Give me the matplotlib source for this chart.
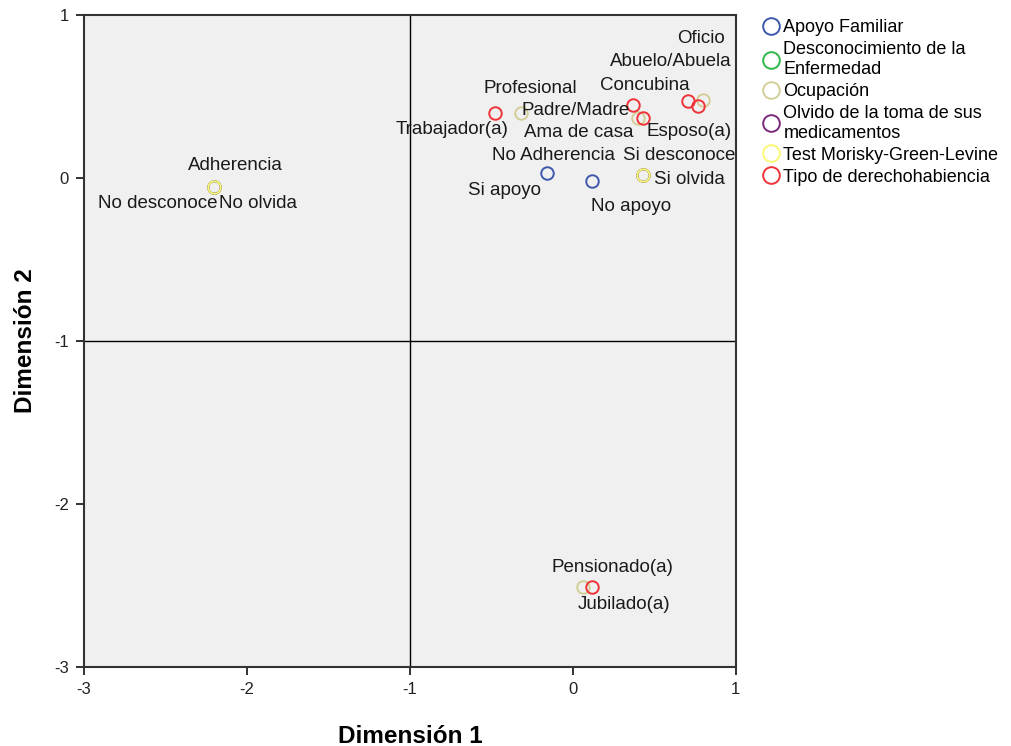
import matplotlib
matplotlib.use("Agg")
import matplotlib.pyplot as plt
from matplotlib.lines import Line2D

plt.rcParams['font.family'] = ['Liberation Sans', 'DejaVu Sans']
plt.rcParams['axes.unicode_minus'] = False

# category coordinates per variable (Dimension 1, Dimension 2)
apoyo_lab = ["Si apoyo", "No apoyo"]
apoyo_x = [-0.16, 0.12]
apoyo_y = [0.03, -0.02]

descon_lab = ["No desconoce", "Si desconoce"]
descon_x = [-2.20, 0.43]
descon_y = [-0.055, 0.02]

ocup_lab = ["Profesional", "Ama de casa", "Oficio", "Pensionado(a)"]
ocup_x = [-0.32, 0.40, 0.80, 0.06]
ocup_y = [0.40, 0.37, 0.48, -2.51]

olvido_lab = ["No olvida", "Si olvida"]
olvido_x = [-2.20, 0.43]
olvido_y = [-0.055, 0.02]

test_lab = ["Adherencia", "No Adherencia"]
test_x = [-2.20, 0.43]
test_y = [-0.055, 0.02]

tipo_lab = ["Trabajador(a)", "Padre/Madre", "Esposo(a)", "Concubina", "Abuelo/Abuela", "Jubilado(a)"]
tipo_x = [-0.48, 0.37, 0.43, 0.71, 0.77, 0.12]
tipo_y = [0.40, 0.45, 0.37, 0.47, 0.44, -2.51]

legend_names = ["Apoyo Familiar", "Desconocimiento de la\nEnfermedad", "Ocupación",
                "Olvido de la toma de sus\nmedicamentos", "Test Morisky-Green-Levine",
                "Tipo de derechohabiencia"]
colors = ["#3E58AC", "#2EB848", "#D3CE97", "#7C287D", "#FBF873", "#EF3338"]

# label offsets in pixels (dx, dy up) relative to the point
offsets = {
    "Si apoyo": (-42, -17), "No apoyo": (39, -25),
    "No desconoce": (-57, -17), "Si desconoce": (36, 19),
    "Profesional": (10, 24), "Ama de casa": (-59, -15), "Oficio": (-2, 61),
    "Pensionado(a)": (30, 20),
    "No olvida": (44, -17), "Si olvida": (47, -5),
    "Adherencia": (21, 21), "No Adherencia": (-89, 19),
    "Trabajador(a)": (-43, -17), "Padre/Madre": (-57, -6), "Esposo(a)": (46, -14),
    "Concubina": (-44, 16), "Abuelo/Abuela": (-27, 45), "Jubilado(a)": (32, -17),
}

series = [
    (apoyo_lab, apoyo_x, apoyo_y),
    (descon_lab, descon_x, descon_y),
    (ocup_lab, ocup_x, ocup_y),
    (olvido_lab, olvido_x, olvido_y),
    (test_lab, test_x, test_y),
    (tipo_lab, tipo_x, tipo_y),
]

fig = plt.figure(figsize=(10.12, 7.46), dpi=100)
ax = fig.add_axes([0.083, 0.106, 0.644, 0.874])
ax.set_facecolor("#F0F0F0")

ax.axvline(-1, color="black", linewidth=1, zorder=1)
ax.axhline(-1, color="black", linewidth=1, zorder=1)

handles = []
for (labs, xs, ys), col, name in zip(series, colors, legend_names):
    ax.plot(xs, ys, linestyle="none", marker="o", markersize=9, markerfacecolor="none",
            markeredgecolor=col, markeredgewidth=1.4, zorder=3)
    handles.append(Line2D([], [], linestyle="none", marker="o", markersize=12,
                          markerfacecolor="none", markeredgecolor=col, markeredgewidth=1.4))
    for lab, x, y in zip(labs, xs, ys):
        dx, dy = offsets[lab]
        ax.annotate(lab, (x, y), xytext=(dx * 0.72, dy * 0.72), textcoords="offset points",
                    ha="center", va="center", fontsize=13.5, color="#1a1a1a", zorder=4)

ax.set_xlim(-3, 1)
ax.set_ylim(-3, 1)
ax.set_xticks([-3, -2, -1, 0, 1])
ax.set_yticks([-3, -2, -1, 0, 1])
ax.tick_params(labelsize=12, length=6, width=1.3, direction="out", pad=5, colors="#222222")
for s in ax.spines.values():
    s.set_linewidth(1.5)
    s.set_color("#333333")

ax.set_xlabel("Dimensión 1", fontsize=17.5, fontweight="bold", labelpad=20)
ax.set_ylabel("Dimensión 2", fontsize=17.5, fontweight="bold", labelpad=12)

fig.legend(handles, legend_names, loc="upper left", bbox_to_anchor=(0.742, 0.984),
           frameon=False, fontsize=13, handletextpad=0.0, labelspacing=0.28,
           borderaxespad=0, handlelength=1.4)

fig.savefig("out.png", dpi=100)
